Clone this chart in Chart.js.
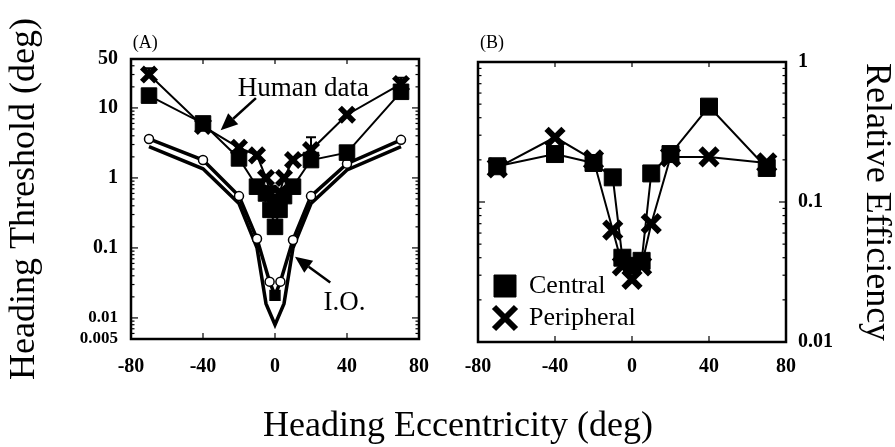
<!DOCTYPE html>
<html>
<head>
<meta charset="utf-8">
<script src="https://cdn.jsdelivr.net/npm/chart.js@4.4.0/dist/chart.umd.min.js"></script>
<style>
  html, body { margin:0; padding:0; background:#fff; }
  #wrap { position:relative; width:895px; height:447px; overflow:hidden; background:#fff; }
  #panelA { position:absolute; left:0; top:0; }
  #panelB { position:absolute; left:445px; top:0; }
  #xTitle { position:absolute; left:0; width:916px; top:406px; text-align:center;
            font:36px/36px "Liberation Serif", serif; color:#000; white-space:nowrap; }
</style>
</head>
<body>
<div id="wrap">
  <canvas id="panelA" width="445" height="447"></canvas>
  <canvas id="panelB" width="450" height="447"></canvas>
  <div id="xTitle">Heading Eccentricity (deg)</div>
</div>
<script>
// heading eccentricity (deg) of the tested conditions
const ECC = [-70, -40, -20, -10, -5, 0, 5, 10, 20, 40, 70];
const A_HUMAN_ECC = [-70, -40, -20, -10, -5, -2.5, 0, 2.5, 5, 10, 20, 40, 70];
const IO_CIRCLE_ECC = [-70, -40, -20, -10, -3, 0, 3, 10, 20, 40, 70];

// panel A: thresholds (deg)
const A_CENTRAL = [15, 6, 1.9, 0.75, 0.6, 0.35, 0.2, 0.35, 0.55, 0.75, 1.8, 2.3, 17];
const A_PERIPH  = [30, 5.5, 2.7, 2.1, 1.0, 0.6, 0.4, 0.6, 1.0, 1.8, 2.5, 8, 22];
const IO_CIRCLES = [3.6, 1.8, 0.55, 0.135, 0.033, 0.021, 0.033, 0.13, 0.55, 1.6, 3.5];
const IO_LINE    = [2.8, 1.35, 0.43, 0.1, 0.016, 0.008, 0.016, 0.1, 0.43, 1.3, 2.8];
// upper error bars on a few peripheral points
const A_ERR_ECC = [-70, 20, 70];
const A_ERR_LO  = [30, 2.5, 22];
const A_ERR_HI  = [37, 3.8, 27];

// panel B: relative efficiency
const B_CENTRAL = [0.18, 0.22, 0.19, 0.15, 0.04, 0.035, 0.038, 0.16, 0.22, 0.48, 0.175];
const B_PERIPH  = [0.175, 0.29, 0.2, 0.063, 0.035, 0.028, 0.035, 0.07, 0.21, 0.21, 0.19];

const X_TICKS = [-80, -40, 0, 40, 80];
const A_Y_TICKS = [50, 10, 1, 0.1, 0.01, 0.005];
const B_Y_TICKS = [1, 0.1, 0.01];

const serif = "'Liberation Serif', 'Times New Roman', serif";

function pairs(xs, ys){ return xs.map((x, i) => ({ x, y: ys[i] })); }
function setTicks(values){ return axis => { axis.ticks = values.map(v => ({ value: v })); }; }

// box frame + inward tick marks, placed with the chart's own scales
const frameTicks = {
  id: 'frameTicks',
  afterDraw(chart){
    const { ctx, chartArea: a, scales: { x, y } } = chart;
    const line = (x1, y1, x2, y2) => { ctx.beginPath(); ctx.moveTo(x1, y1); ctx.lineTo(x2, y2); ctx.stroke(); };
    ctx.save();
    ctx.strokeStyle = '#000';
    ctx.lineWidth = 1.2;
    X_TICKS.forEach(v => {
      if (v <= x.min || v >= x.max) return;
      const px = x.getPixelForValue(v);
      line(px, a.bottom, px, a.bottom - 6);
      line(px, a.top, px, a.top + 5);
    });
    const d0 = Math.floor(Math.log10(y.min)), d1 = Math.ceil(Math.log10(y.max));
    for (let d = d0; d <= d1; d++) {
      for (let m = 1; m <= 9; m++) {
        const v = m * Math.pow(10, d);
        if (v <= y.min || v >= y.max) continue;
        const py = y.getPixelForValue(v);
        const len = m === 1 ? 7 : 3.5;
        line(a.left, py, a.left + len, py);
        line(a.right, py, a.right - len, py);
      }
    }
    ctx.lineWidth = 2.5;
    ctx.strokeRect(a.left, a.top, a.right - a.left, a.bottom - a.top);
    ctx.restore();
  }
};

// error bars, text labels and arrows, positioned in data units
const notes = {
  id: 'notes',
  afterDatasetsDraw(chart, args, opts){
    const { ctx, scales: { x, y } } = chart;
    const bars = opts.errorBars;
    if (!bars) return;
    ctx.save();
    ctx.strokeStyle = '#000';
    ctx.lineWidth = 2;
    bars.ecc.forEach((e, i) => {
      const px = x.getPixelForValue(e);
      const y1 = y.getPixelForValue(bars.lo[i]), y2 = y.getPixelForValue(bars.hi[i]);
      ctx.beginPath(); ctx.moveTo(px, y1); ctx.lineTo(px, y2);
      ctx.moveTo(px - 5, y2); ctx.lineTo(px + 5, y2); ctx.stroke();
    });
    ctx.restore();
  },
  afterDraw(chart, args, opts){
    const { ctx, scales: { x, y } } = chart;
    ctx.save();
    ctx.fillStyle = '#000';
    ctx.strokeStyle = '#000';
    (opts.texts || []).forEach(t => {
      ctx.font = t.size + 'px ' + serif;
      ctx.textAlign = 'left';
      ctx.textBaseline = 'middle';
      ctx.fillText(t.text, x.getPixelForValue(t.x), y.getPixelForValue(t.y));
    });
    (opts.arrows || []).forEach(ar => {
      const x1 = x.getPixelForValue(ar.from[0]), y1 = y.getPixelForValue(ar.from[1]);
      const x2 = x.getPixelForValue(ar.to[0]), y2 = y.getPixelForValue(ar.to[1]);
      const ang = Math.atan2(y2 - y1, x2 - x1);
      const hl = 17, hw = 7.5;
      const bx = x2 - hl * Math.cos(ang), by = y2 - hl * Math.sin(ang);
      ctx.lineWidth = 2.5;
      ctx.beginPath(); ctx.moveTo(x1, y1); ctx.lineTo(bx, by); ctx.stroke();
      ctx.beginPath();
      ctx.moveTo(x2, y2);
      ctx.lineTo(bx + hw * Math.sin(ang), by - hw * Math.cos(ang));
      ctx.lineTo(bx - hw * Math.sin(ang), by + hw * Math.cos(ang));
      ctx.closePath(); ctx.fill();
    });
    ctx.restore();
  }
};

// chartArea legends get laid out from y=0, move the box onto the plot area
const legendInPlot = {
  id: 'legendInPlot',
  afterLayout(chart){
    const lg = chart.legend;
    if (!lg || lg.options.position !== 'chartArea') return;
    lg.top += chart.chartArea.top - 5;
    lg.bottom += chart.chartArea.top - 5;
    lg.left += 10;
    lg.right += 10;
  }
};

const tickFont = { family: serif, weight: 'bold', size: 20 };
const titleFont = { family: serif, size: 36, lineHeight: 1 };

new Chart(document.getElementById('panelA'), {
  type: 'line',
  data: {
    datasets: [
      { label: 'Central', data: pairs(A_HUMAN_ECC, A_CENTRAL), borderColor: '#000', borderWidth: 2,
        pointStyle: 'rect', pointRadius: 11, pointBackgroundColor: '#000', pointBorderColor: '#000', pointBorderWidth: 1 },
      { label: 'Peripheral', data: pairs(A_HUMAN_ECC, A_PERIPH), borderColor: '#000', borderWidth: 2,
        pointStyle: 'crossRot', pointRadius: 10, pointBackgroundColor: '#000', pointBorderColor: '#000', pointBorderWidth: 5.5 },
      { label: 'I.O. circles', data: pairs(IO_CIRCLE_ECC, IO_CIRCLES), borderColor: '#000', borderWidth: 3.5,
        pointStyle: IO_CIRCLE_ECC.map(e => e === 0 ? 'rect' : 'circle'),
        pointRadius: IO_CIRCLE_ECC.map(e => e === 0 ? 7 : 4.5),
        pointBackgroundColor: IO_CIRCLE_ECC.map(e => e === 0 ? '#000' : '#fff'),
        pointBorderColor: '#000', pointBorderWidth: 1.5 },
      { label: 'I.O.', data: pairs(ECC, IO_LINE), borderColor: '#000', borderWidth: 3.5, pointRadius: 0 }
    ]
  },
  plugins: [frameTicks, notes],
  options: {
    responsive: false, animation: false, events: [],
    layout: { padding: { left: 0, top: 59, right: 12, bottom: 0 }, autoPadding: false },
    plugins: {
      legend: { display: false },
      tooltip: { enabled: false },
      notes: {
        errorBars: { ecc: A_ERR_ECC, lo: A_ERR_LO, hi: A_ERR_HI },
        texts: [
          { text: '(A)', x: -79, y: 85, size: 18 },
          { text: 'Human data', x: -20.7, y: 18.6, size: 27 },
          { text: 'I.O.', x: 27, y: 0.0164, size: 27 }
        ],
        arrows: [
          { from: [-10.6, 13.8], to: [-30.2, 4.8] },
          { from: [30.7, 0.032], to: [11.1, 0.075] }
        ]
      }
    },
    scales: {
      x: {
        type: 'linear', min: -80, max: 80,
        afterBuildTicks: setTicks(X_TICKS),
        afterFit: s => { s.height = 108; },
        grid: { display: false, drawTicks: false }, border: { display: false },
        ticks: { font: tickFont, color: '#000', padding: 16, autoSkip: false, maxRotation: 0 }
      },
      y: {
        type: 'logarithmic', min: 0.005, max: 50,
        afterBuildTicks: setTicks(A_Y_TICKS),
        afterFit: s => { s.width = 131; },
        grid: { display: false, drawTicks: false }, border: { display: false },
        ticks: {
          font: ctx => ({ family: serif, weight: 'bold', size: ctx.tick && ctx.tick.value < 0.05 ? 17 : 20 }),
          color: '#000', padding: 13, autoSkip: false, callback: v => String(v)
        },
        title: { display: true, text: 'Heading Threshold (deg)', font: titleFont, color: '#000', padding: { top: 7, bottom: 0 } }
      }
    }
  }
});

new Chart(document.getElementById('panelB'), {
  type: 'line',
  data: {
    datasets: [
      { label: 'Central', data: pairs(ECC, B_CENTRAL), borderColor: '#000', borderWidth: 2,
        pointStyle: 'rect', pointRadius: 12, pointBackgroundColor: '#000', pointBorderColor: '#000', pointBorderWidth: 1 },
      { label: 'Peripheral', data: pairs(ECC, B_PERIPH), borderColor: '#000', borderWidth: 2,
        pointStyle: 'crossRot', pointRadius: 12, pointBackgroundColor: '#000', pointBorderColor: '#000', pointBorderWidth: 6 }
    ]
  },
  plugins: [frameTicks, notes, legendInPlot],
  options: {
    responsive: false, animation: false, events: [],
    layout: { padding: { left: 33, top: 62, right: 0, bottom: 0 }, autoPadding: false },
    plugins: {
      legend: {
        display: true, position: 'chartArea', align: 'end',
        labels: { usePointStyle: true, boxWidth: 22, boxHeight: 22, padding: 6,
                  font: { family: serif, size: 26 }, color: '#000' }
      },
      tooltip: { enabled: false },
      notes: { texts: [ { text: '(B)', x: -79, y: 1.37, size: 18 } ] }
    },
    scales: {
      x: {
        type: 'linear', min: -80, max: 80,
        afterBuildTicks: setTicks(X_TICKS),
        afterFit: s => { s.height = 105; },
        grid: { display: false, drawTicks: false }, border: { display: false },
        ticks: { font: tickFont, color: '#000', padding: 13, autoSkip: false, maxRotation: 0 }
      },
      y: {
        type: 'logarithmic', position: 'right', min: 0.01, max: 1,
        afterBuildTicks: setTicks(B_Y_TICKS),
        afterFit: s => { s.width = 109; },
        grid: { display: false, drawTicks: false }, border: { display: false },
        ticks: { font: tickFont, color: '#000', padding: 12, autoSkip: false, callback: v => String(v) },
        title: { display: true, text: 'Relative Efficiency', font: titleFont, color: '#000', padding: { top: 1, bottom: 0 } }
      }
    }
  }
});
</script>
</body>
</html>
